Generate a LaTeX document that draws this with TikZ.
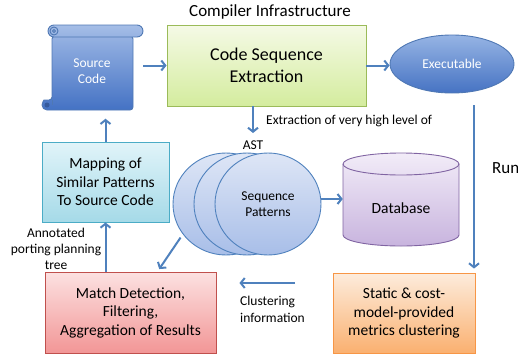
\documentclass[tikz,border=0pt]{standalone}
\usepackage{fontspec}
\setmainfont{Carlito}
\usetikzlibrary{arrows.meta,positioning,shapes}

\definecolor{arrblue}{RGB}{79,129,189}
\definecolor{srcTop}{RGB}{150,178,226}
\definecolor{srcBot}{RGB}{68,114,196}
\definecolor{srcLine}{RGB}{79,120,180}
\definecolor{cseTop}{RGB}{245,250,230}
\definecolor{cseBot}{RGB}{212,236,158}
\definecolor{cseLine}{RGB}{155,187,89}
\definecolor{exeTop}{RGB}{150,180,228}
\definecolor{exeBot}{RGB}{70,115,195}
\definecolor{mapTop}{RGB}{225,244,249}
\definecolor{mapBot}{RGB}{165,218,232}
\definecolor{mapLine}{RGB}{75,172,198}
\definecolor{seqTop}{RGB}{222,230,246}
\definecolor{seqBot}{RGB}{168,190,232}
\definecolor{dbTop}{RGB}{242,236,248}
\definecolor{dbBot}{RGB}{200,180,222}
\definecolor{dbLine}{RGB}{128,100,162}
\definecolor{matTop}{RGB}{252,225,225}
\definecolor{matBot}{RGB}{242,150,150}
\definecolor{matLine}{RGB}{192,80,77}
\definecolor{staTop}{RGB}{253,236,220}
\definecolor{staBot}{RGB}{250,176,112}
\definecolor{staLine}{RGB}{247,150,70}

\begin{document}
\begin{tikzpicture}[x=1pt,y=-1pt]

    \tikzstyle{box} = [draw, rectangle, line width=0.9pt, inner sep=0pt,
    align=center, font=\fontsize{15.5}{18.5}\selectfont]

    \tikzstyle{blob} = [draw, ellipse, line width=0.9pt, inner sep=0pt,
    align=center, font=\fontsize{13.5}{16}\selectfont]

    \tikzstyle{lbl} = [inner sep=0pt, font=\fontsize{13.5}{16}\selectfont]

    \tikzstyle{arr} = [draw=arrblue, line width=2pt,
    -{Straight Barb[length=4pt,width=10pt]}]

    \useasboundingbox (0,0) rectangle (518,356);

    % scroll for the source code
    \shade[top color=srcTop, bottom color=srcBot, draw=srcLine, line width=0.9pt,
    rounded corners=3pt]
    (52,36) -- (52,100) -- (47,100) [sharp corners] arc (270:90:5)
    [rounded corners=3pt] -- (133,110) -- (133,36) -- cycle;
    \fill[srcBot!80!black] (47,105) circle (2.5);
    \draw[srcLine, line width=0.9pt] (52,100) -- (52,105);
    \draw[srcLine, line width=0.9pt, top color=srcTop!85!white, bottom color=srcTop,
    rounded corners=6pt] (48,25) rectangle (143,37);
    \draw[srcLine, line width=0.9pt] (54,31) circle (4);
    \draw[srcLine, line width=0.9pt] (54,31) circle (1.5);

    % database
    \shade[top color=dbTop, bottom color=dbBot, draw=dbLine, line width=0.9pt]
    (343,164) -- (343,235) arc (180:0:58 and 11) -- (459,164)
    arc (0:-180:58 and 11) -- cycle;
    \draw[dbLine, line width=0.9pt] (343,164) arc (180:0:58 and 11);

    \draw
    (270,12) node [lbl, font=\fontsize{17}{20}\selectfont] (title) {Compiler Infrastructure}
    (92,71) node [lbl, white, minimum width=81, minimum height=79, align=center]
    (src) {Source\\Code}
    (266.5,65.5) node [box, draw=cseLine, top color=cseTop, bottom color=cseBot,
    minimum width=199, minimum height=81, font=\fontsize{18}{21.5}\selectfont]
    (cse) {Code Sequence\\Extraction}
    (452,64) node [blob, draw=srcLine, top color=exeTop, bottom color=exeBot,
    text=white, minimum width=124, minimum height=58] (exe) {Executable}
    (105.5,182) node [box, draw=mapLine, top color=mapTop, bottom color=mapBot,
    minimum width=127, minimum height=80] (map) {Mapping of\\Similar Patterns\\To Source Code}
    (226,204) node [blob, draw=arrblue, top color=seqTop, bottom color=seqBot,
    minimum width=106, minimum height=102] (seq1) {}
    (247,204) node [blob, draw=arrblue, top color=seqTop, bottom color=seqBot,
    minimum width=106, minimum height=102] (seq2) {}
    (268,204) node [blob, draw=arrblue, top color=seqTop, bottom color=seqBot,
    minimum width=106, minimum height=102] (seq3) {Sequence\\Patterns}
    (401,208) node [lbl, minimum width=116, font=\fontsize{15.5}{18.5}\selectfont]
    (db) {Database}
    (130.5,312.5) node [box, draw=matLine, top color=matTop, bottom color=matBot,
    minimum width=171, minimum height=81] (match) {Match Detection,\\Filtering,\\Aggregation of Results}
    (404,313) node [box, draw=staLine, top color=staTop, bottom color=staBot,
    minimum width=142, minimum height=80] (stat) {Static \& cost-\\model-provided\\metrics clustering}
    ;

    % labels
    \node [lbl, anchor=west] (extlbl) at (266,121) {Extraction of very high level of};
    \node [lbl] (astlbl) at (253,145) {AST};
    \node [lbl, anchor=west, font=\fontsize{17}{20}\selectfont] (runlbl) at (492,168) {Run};
    \node [lbl, align=center] (annlbl) at (56,249) {Annotated\\porting planning\\tree};
    \node [lbl, anchor=west, align=left, font=\fontsize{13.5}{17}\selectfont]
    (cluslbl) at (240,309) {Clustering\\information};

    \coordinate (runtop) at (474,105);
    \coordinate (ast) at (253,133);
    \coordinate (clus) at (295,283);

    \draw[arr, shorten <=10.5pt] (cse.west -| src.east) -- (cse.west);
    \draw[arr] (cse.east) -- (cse.east -| exe.west);
    \draw[arr, shorten >=4pt] (runtop) -- (runtop |- stat.north);
    \draw[arr] (cse.south -| ast) -- (ast);
    \draw[arr] ([yshift=5pt]seq3.east) -- ([yshift=5pt]seq3.east -| db.west);
    \draw[arr, shorten <=4pt, shorten >=3pt] (seq1.215) -- ([xshift=27pt]match.north);
    \draw[arr] (map.south |- match.north) -- (map.south);
    \draw[arr, shorten >=8pt] (map.north) -- (map.north |- src.south);
    \draw[arr, shorten >=23pt] (clus) -- (clus -| match.east);
  \end{tikzpicture}
\end{document}
